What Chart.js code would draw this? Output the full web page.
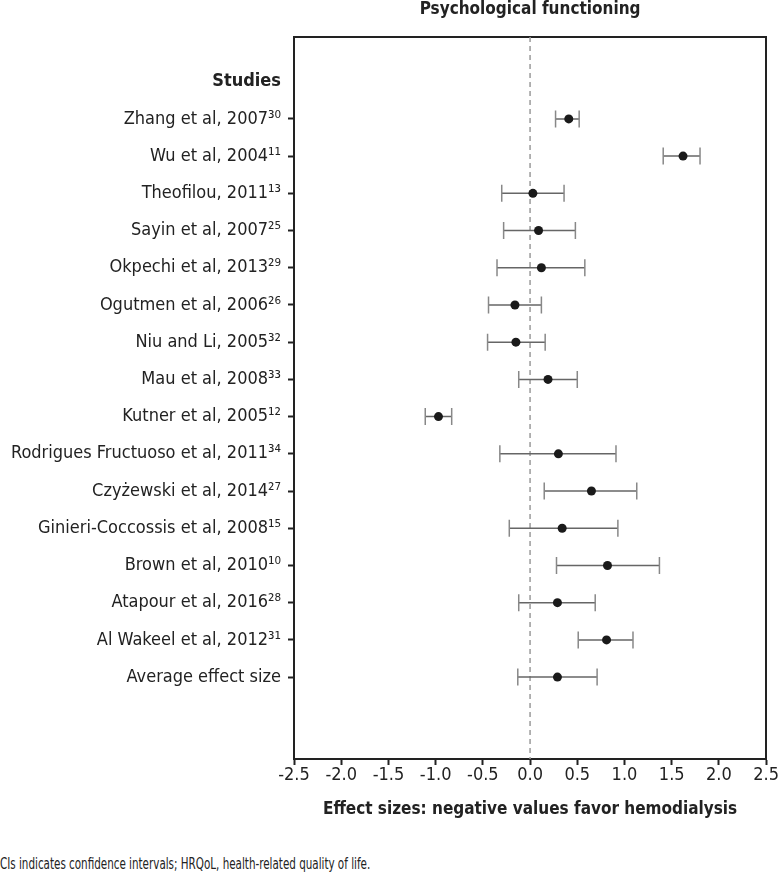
<!DOCTYPE html>
<html lang="en-US">
  <head>
    <meta charset="utf-8" />
    <title>Psychological functioning forest plot</title>
    <style>
      body { margin: 0; background: #fff; }
      .wrap { position: relative; width: 779px; height: 879px; }
      .note {
        position: absolute; left: 0; top: 854px;
        font-family: 'Liberation Sans Narrow', 'DejaVu Sans Condensed', sans-serif;
        font-size: 16px; color: #222; white-space: nowrap;
        transform: scaleX(0.72); transform-origin: left top;
      }
    </style>
  </head>
  <body>
    <div class="wrap">
      <canvas id="chart" width="779" height="830"></canvas>
      <div class="note">CIs indicates confidence intervals; HRQoL, health-related quality of life.</div>
    </div>

  <script src="https://cdn.jsdelivr.net/npm/chart.js@4.4.0/dist/chart.umd.min.js"></script>
  <script>
    const FONT = "'Liberation Sans Narrow', 'DejaVu Sans Condensed', sans-serif";

    // data
    const studies = [
      "Zhang et al, 2007", "Wu et al, 2004", "Theofilou, 2011", "Sayin et al, 2007",
      "Okpechi et al, 2013", "Ogutmen et al, 2006", "Niu and Li, 2005", "Mau et al, 2008",
      "Kutner et al, 2005", "Rodrigues Fructuoso et al, 2011", "Czyżewski et al, 2014",
      "Ginieri-Coccossis et al, 2008", "Brown et al, 2010", "Atapour et al, 2016",
      "Al Wakeel et al, 2012", "Average effect size"
    ];
    const refs = [30, 11, 13, 25, 29, 26, 32, 33, 12, 34, 27, 15, 10, 28, 31, null];
    const estimate = [0.41, 1.62, 0.03, 0.09, 0.12, -0.16, -0.15, 0.19, -0.97, 0.30, 0.65, 0.34, 0.82, 0.29, 0.81, 0.29];
    const lower    = [0.27, 1.41, -0.30, -0.28, -0.35, -0.44, -0.45, -0.12, -1.11, -0.32, 0.15, -0.22, 0.28, -0.12, 0.51, -0.13];
    const upper    = [0.52, 1.80, 0.36, 0.48, 0.58, 0.12, 0.16, 0.50, -0.83, 0.91, 1.13, 0.93, 1.37, 0.69, 1.09, 0.71];
    const xTicks = [-2.5, -2.0, -1.5, -1.0, -0.5, 0.0, 0.5, 1.0, 1.5, 2.0, 2.5];

    const Y_MIN = -1.2, Y_MAX = 18.2;

    const supDigits = "⁰¹²³⁴⁵⁶⁷⁸⁹";
    function sup(n) {
      if (n == null) return "";
      return String(n).split("").map(d => supDigits[+d]).join("");
    }
    const rowLabels = ["Studies"].concat(studies.map((s, i) => s + sup(refs[i])));

    // datasets (first one is drawn on top)
    const pointSet = {
      type: "scatter",
      data: estimate.map((v, i) => ({ x: v, y: i + 1 })),
      pointRadius: 4.5,
      pointBackgroundColor: "#1a1a1a",
      pointBorderColor: "#1a1a1a",
      pointBorderWidth: 0
    };

    const ciSets = studies.map((s, i) => ({
      type: "scatter",
      showLine: true,
      data: [{ x: lower[i], y: i + 1 }, { x: upper[i], y: i + 1 }],
      borderColor: "#666",
      borderWidth: 1.5,
      pointStyle: "line",
      pointRotation: 90,
      pointRadius: 8.5,
      pointBorderColor: "#888",
      pointBorderWidth: 1.5
    }));

    const zeroLine = {
      type: "scatter",
      showLine: true,
      data: [{ x: 0, y: Y_MIN }, { x: 0, y: Y_MAX }],
      borderColor: "#9a9a9a",
      borderWidth: 1.5,
      borderDash: [5, 4],
      pointRadius: 0
    };

    new Chart(document.getElementById("chart"), {
      type: "scatter",
      data: { datasets: [pointSet].concat(ciSets, [zeroLine]) },
      options: {
        responsive: false,
        animation: false,
        layout: { padding: 0 },
        plugins: { legend: { display: false }, tooltip: { enabled: false } },
        scales: {
          x: {
            type: "linear",
            position: "bottom",
            min: -2.5, max: 2.5,
            afterBuildTicks: (axis) => { axis.ticks = xTicks.map(v => ({ value: v })); },
            afterFit: (axis) => { axis.height = 71; },
            ticks: {
              color: "#222",
              font: { family: FONT, size: 18 },
              padding: 0,
              maxRotation: 0,
              autoSkip: false,
              callback: (v) => Number(v).toFixed(1)
            },
            grid: { drawOnChartArea: false, tickLength: 6, tickWidth: 2, tickColor: "#222" },
            border: { display: true, color: "#222", width: 2 },
            title: {
              display: true,
              text: "Effect sizes: negative values favor hemodialysis",
              color: "#222",
              font: { family: FONT, size: 17, weight: "bold" },
              padding: { top: 0, bottom: 10 }
            }
          },
          xTop: {
            type: "linear",
            position: "top",
            min: -2.5, max: 2.5,
            afterFit: (axis) => { axis.height = 37; },
            ticks: { display: false },
            grid: { display: false },
            border: { display: true, color: "#222", width: 2 },
            title: {
              display: true,
              text: "Psychological functioning",
              color: "#222",
              font: { family: FONT, size: 17, weight: "bold", lineHeight: 1 },
              padding: { top: 1, bottom: 0 }
            }
          },
          y: {
            type: "linear",
            position: "left",
            reverse: true,
            min: Y_MIN, max: Y_MAX,
            afterBuildTicks: (axis) => { axis.ticks = rowLabels.map((l, i) => ({ value: i })); },
            afterFit: (axis) => { axis.width = 294; },
            ticks: {
              color: "#222",
              padding: 7,
              autoSkip: false,
              font: (ctx) => ({
                family: FONT, size: 18,
                weight: ctx.tick && ctx.tick.value === 0 ? "bold" : "normal"
              }),
              callback: (v) => rowLabels[v]
            },
            grid: {
              drawOnChartArea: false, tickLength: 6, tickWidth: 2,
              tickColor: (ctx) => (ctx.tick && ctx.tick.value === 0 ? "rgba(0,0,0,0)" : "#222")
            },
            border: { display: true, color: "#222", width: 2 }
          },
          yRight: {
            type: "linear",
            position: "right",
            min: Y_MIN, max: Y_MAX,
            afterFit: (axis) => { axis.width = 8; },
            ticks: { display: false },
            grid: { display: false },
            border: { display: true, color: "#222", width: 2 }
          }
        }
      }
    });
  </script>
  </body>
</html>
